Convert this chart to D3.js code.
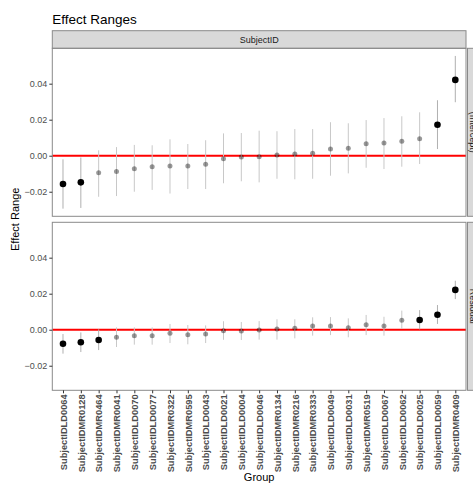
<!DOCTYPE html>
<html>
<head>
<meta charset="utf-8">
<script src="https://cdn.jsdelivr.net/npm/d3@7"></script>
<style>
  body { margin: 0; background: #fff; }
  svg { font-family: "Liberation Sans", Arial, sans-serif; display: block; }
</style>
</head>
<body>
<div id="chart"></div>
<script>
const groups = ["SubjectIDLD0064", "SubjectIDMR0128", "SubjectIDMR0464", "SubjectIDMR0041",
  "SubjectIDLD0070", "SubjectIDLD0077", "SubjectIDMR0322", "SubjectIDMR0595", "SubjectIDLD0043",
  "SubjectIDLD0021", "SubjectIDLD0004", "SubjectIDLD0046", "SubjectIDMR0134", "SubjectIDMR0216",
  "SubjectIDMR0333", "SubjectIDLD0049", "SubjectIDLD0031", "SubjectIDMR0519", "SubjectIDLD0067",
  "SubjectIDLD0062", "SubjectIDLD0025", "SubjectIDLD0059", "SubjectIDMR0409"];

const facets = ["(Intercept)", "Residual"];

const interceptEst = [-0.0157, -0.0148, -0.0094, -0.0087, -0.0072, -0.0061, -0.0057, -0.0057, -0.0048,
  -0.0017, -0.0007, -0.0006, 0.0004, 0.0009, 0.0013, 0.0037, 0.0041, 0.0067, 0.0071, 0.0080, 0.0094, 0.0172, 0.0421];
const interceptLow = [-0.0294, -0.0290, -0.0228, -0.0224, -0.0200, -0.0190, -0.0210, -0.0185, -0.0185,
  -0.0153, -0.0142, -0.0148, -0.0128, -0.0131, -0.0128, -0.0111, -0.0098, -0.0067, -0.0074, -0.0061, -0.0046, 0.0037, 0.0297];
const interceptHigh = [-0.0020, -0.0010, 0.0030, 0.0048, 0.0060, 0.0058, 0.0091, 0.0065, 0.0086,
  0.0124, 0.0126, 0.0139, 0.0136, 0.0148, 0.0148, 0.0186, 0.0180, 0.0198, 0.0209, 0.0219, 0.0241, 0.0308, 0.0554];
const interceptSig = [1, 1, 0, 0, 0, 0, 0, 0, 0, 0, 0, 0, 0, 0, 0, 0, 0, 0, 0, 0, 0, 1, 1];

const residualEst = [-0.0078, -0.0070, -0.0057, -0.0042, -0.0033, -0.0033, -0.0020, -0.0028, -0.0024,
  -0.0006, -0.0007, -0.0002, 0.0004, 0.0008, 0.0021, 0.0021, 0.0011, 0.0028, 0.0021, 0.0052, 0.0054, 0.0083, 0.0221];
const residualLow = [-0.0133, -0.0124, -0.0113, -0.0096, -0.0083, -0.0083, -0.0074, -0.0081, -0.0074,
  -0.0056, -0.0057, -0.0055, -0.0055, -0.0048, -0.0033, -0.0030, -0.0042, -0.0030, -0.0033, 0.0004, 0.0002, 0.0032, 0.0170];
const residualHigh = [-0.0024, -0.0015, 0.0002, 0.0013, 0.0013, 0.0013, 0.0032, 0.0026, 0.0024,
  0.0047, 0.0043, 0.0048, 0.0058, 0.0058, 0.0069, 0.0070, 0.0063, 0.0082, 0.0072, 0.0106, 0.0109, 0.0137, 0.0272];
const residualSig = [1, 1, 1, 0, 0, 0, 0, 0, 0, 0, 0, 0, 0, 0, 0, 0, 0, 0, 0, 0, 1, 1, 1];

const yTicks = [-0.02, 0, 0.02, 0.04];

const panelData = [
  groups.map((g, i) => ({ group: g, est: interceptEst[i], lo: interceptLow[i], hi: interceptHigh[i], sig: interceptSig[i] })),
  groups.map((g, i) => ({ group: g, est: residualEst[i], lo: residualLow[i], hi: residualHigh[i], sig: residualSig[i] }))
];

const width = 473, height = 484;
const left = 52.3, right = 466;
const panelTops = [48.3, 222.3];
const panelH = 168;

const svg = d3.select("#chart").append("svg")
  .attr("width", width)
  .attr("height", height);

const x = d3.scalePoint().domain(groups).range([left, right]).padding(0.6);

// shared y domain, ggplot style 5% expansion
const allLo = d3.min(panelData.flat(), d => d.lo);
const allHi = d3.max(panelData.flat(), d => d.hi);
const pad = (allHi - allLo) * 0.05;
const yDomain = [allLo - pad, allHi + pad];

const border = "#8a8a8a";

// title
svg.append("text")
  .attr("x", left).attr("y", 24)
  .attr("font-size", 13.5).attr("fill", "#000")
  .text("Effect Ranges");

// top strip
svg.append("rect")
  .attr("x", left).attr("y", 30.7)
  .attr("width", right - left).attr("height", 17.6)
  .attr("fill", "#d9d9d9").attr("stroke", border);
svg.append("text")
  .attr("x", (left + right) / 2).attr("y", 39.5)
  .attr("text-anchor", "middle").attr("dominant-baseline", "central")
  .attr("font-size", 9).attr("fill", "#1a1a1a")
  .text("SubjectID");

panelData.forEach((data, p) => {
  const top = panelTops[p];
  const y = d3.scaleLinear().domain(yDomain).range([top + panelH, top]);
  const g = svg.append("g");

  // zero line
  g.append("line")
    .attr("x1", left).attr("x2", right)
    .attr("y1", y(0)).attr("y2", y(0))
    .attr("stroke", "#ff0000").attr("stroke-width", 2);

  // ranges
  g.selectAll("line.range")
    .data(data)
    .enter()
    .append("line")
    .attr("class", "range")
    .attr("x1", d => x(d.group)).attr("x2", d => x(d.group))
    .attr("y1", d => y(d.lo)).attr("y2", d => y(d.hi))
    .attr("stroke", d => d.sig ? "#b0b0b0" : "#c8c8c8")
    .attr("stroke-width", 1);

  // points
  g.selectAll("circle")
    .data(data)
    .enter()
    .append("circle")
    .attr("cx", d => x(d.group))
    .attr("cy", d => y(d.est))
    .attr("r", d => d.sig ? 3.3 : 2.5)
    .attr("fill", "#000")
    .attr("fill-opacity", d => d.sig ? 1 : 0.4);

  // panel border
  g.append("rect")
    .attr("x", left).attr("y", top)
    .attr("width", right - left).attr("height", panelH)
    .attr("fill", "none").attr("stroke", border);

  // right strip (runs off the page, as in the original)
  g.append("rect")
    .attr("x", right + 1.5).attr("y", top)
    .attr("width", 18).attr("height", panelH)
    .attr("fill", "#d9d9d9").attr("stroke", border);
  g.append("text")
    .attr("transform", `translate(${right + 6.5},${top + panelH / 2}) rotate(90)`)
    .attr("text-anchor", "middle").attr("dominant-baseline", "central")
    .attr("font-size", 9).attr("fill", "#1a1a1a")
    .text(facets[p]);

  // y axis
  const yAxis = g.append("g")
    .attr("transform", `translate(${left},0)`)
    .call(d3.axisLeft(y).tickValues(yTicks).tickFormat(d3.format(".2f")).tickSize(3).tickPadding(2));
  yAxis.select(".domain").remove();
  yAxis.selectAll(".tick line").attr("stroke", "#333");
  yAxis.selectAll(".tick text").attr("fill", "#4d4d4d").attr("font-size", 9)
    .attr("font-family", "Liberation Sans, Arial, sans-serif");
});

// x axis
const bottom = panelTops[1] + panelH;
const xAxis = svg.append("g")
  .attr("transform", `translate(0,${bottom})`)
  .call(d3.axisBottom(x).tickSize(3).tickPadding(2));
xAxis.select(".domain").remove();
xAxis.selectAll(".tick line").attr("stroke", "#333");
xAxis.selectAll(".tick text")
  .attr("transform", "rotate(-90)")
  .attr("text-anchor", "end")
  .attr("dy", "0.35em")
  .attr("x", -4).attr("y", 0)
  .attr("fill", "#4d4d4d")
  .attr("font-size", 9.3)
  .attr("font-weight", "bold")
  .attr("font-family", "Liberation Sans, Arial, sans-serif");

// axis titles
svg.append("text")
  .attr("x", (left + right) / 2).attr("y", 481)
  .attr("text-anchor", "middle")
  .attr("font-size", 11).attr("fill", "#000")
  .text("Group");

svg.append("text")
  .attr("transform", `translate(19,${(panelTops[0] + bottom) / 2}) rotate(-90)`)
  .attr("text-anchor", "middle")
  .attr("font-size", 11).attr("fill", "#000")
  .text("Effect Range");
</script>
</body>
</html>
